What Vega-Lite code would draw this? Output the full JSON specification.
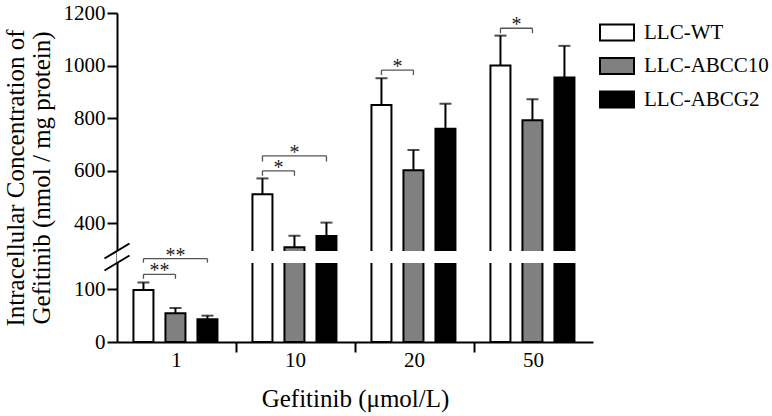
{
  "$schema": "https://vega.github.io/schema/vega-lite/v6.json",
  "width": 476,
  "height": 329,
  "autosize": "none",
  "padding": {"left": 117, "top": 13, "right": 179, "bottom": 74},
  "background": "white",
  "config": {
    "view": {"stroke": null},
    "font": "Liberation Serif",
    "axis": {
      "grid": false,
      "domainColor": "black",
      "domainWidth": 2,
      "tickColor": "black",
      "tickWidth": 2,
      "tickSize": 10,
      "labelColor": "black",
      "labelFont": "Liberation Serif",
      "labelFontSize": 21,
      "titleFont": "Liberation Serif",
      "titleFontSize": 25,
      "titleFontWeight": "normal",
      "titleColor": "black",
      "zindex": 0
    }
  },
  "datasets": {
    "bars": [
      {"Conc": "1", "Line": "LLC-WT", "mean": 98.7, "err": 113},
      {"Conc": "1", "Line": "LLC-ABCC10", "mean": 54.5, "err": 64.6},
      {"Conc": "1", "Line": "LLC-ABCG2", "mean": 43, "err": 50},
      {"Conc": "10", "Line": "LLC-WT", "mean": 511, "err": 571},
      {"Conc": "10", "Line": "LLC-ABCC10", "mean": 309, "err": 353},
      {"Conc": "10", "Line": "LLC-ABCG2", "mean": 352, "err": 403},
      {"Conc": "20", "Line": "LLC-WT", "mean": 850, "err": 952},
      {"Conc": "20", "Line": "LLC-ABCC10", "mean": 602, "err": 679},
      {"Conc": "20", "Line": "LLC-ABCG2", "mean": 760, "err": 855},
      {"Conc": "50", "Line": "LLC-WT", "mean": 1000, "err": 1114},
      {"Conc": "50", "Line": "LLC-ABCC10", "mean": 792, "err": 872},
      {"Conc": "50", "Line": "LLC-ABCG2", "mean": 955, "err": 1075}
    ],
    "brackets": [
      {"id": "b1o", "Conc": "1", "from": "LLC-WT", "to": "LLC-ABCG2", "level": 202, "leg": 154, "label": "**"},
      {"id": "b1i", "Conc": "1", "from": "LLC-WT", "to": "LLC-ABCC10", "level": 128.5, "leg": 120, "label": "**"},
      {"id": "b10o", "Conc": "10", "from": "LLC-WT", "to": "LLC-ABCG2", "level": 657, "leg": 635, "label": "*"},
      {"id": "b10i", "Conc": "10", "from": "LLC-WT", "to": "LLC-ABCC10", "level": 600, "leg": 581, "label": "*"},
      {"id": "b20", "Conc": "20", "from": "LLC-WT", "to": "LLC-ABCC10", "level": 983, "leg": 964, "label": "*"},
      {"id": "b50", "Conc": "50", "from": "LLC-WT", "to": "LLC-ABCC10", "level": 1142, "leg": 1123, "label": "*"}
    ],
    "gap": [{"lo": 150, "hi": 295}],
    "breaks": [{"v": 150}, {"v": 295}]
  },
  "layer": [
    {
      "data": {"name": "bars"},
      "mark": {"type": "bar", "stroke": "black", "strokeWidth": 2},
      "encoding": {
        "x": {
          "field": "Conc", "type": "nominal", "sort": null,
          "scale": {"domain": ["1", "10", "20", "50"], "paddingInner": 0, "paddingOuter": 0},
          "axis": {
            "title": "Gefitinib (μmol/L)",
            "labelAngle": 0,
            "bandPosition": 0,
            "labelPadding": -3,
            "titlePadding": 16,
            "tickColor": {"condition": {"test": "datum.value === '1'", "value": "transparent"}, "value": "black"}
          }
        },
        "xOffset": {
          "field": "Line", "type": "nominal",
          "scale": {"domain": ["LLC-WT", "LLC-ABCC10", "LLC-ABCG2"], "paddingInner": 0.375, "paddingOuter": 0.547, "align": 0.47}
        },
        "y": {
          "field": "mean", "type": "quantitative",
          "scale": {"domain": [0, 150, 295, 1200], "range": [329, 250, 238, 0], "nice": false, "zero": false},
          "axis": {
            "title": ["Intracellular Concentration of", "Gefitinib (nmol / mg protein)"],
            "values": [0, 100, 400, 600, 800, 1000, 1200],
            "format": "d",
            "labelPadding": 2,
            "titlePadding": 9,
            "titleLineHeight": 26
          }
        },
        "fill": {
          "field": "Line", "type": "nominal",
          "scale": {"domain": ["LLC-WT", "LLC-ABCC10", "LLC-ABCG2"], "range": ["white", "#808080", "black"]},
          "legend": {
            "title": null,
            "orient": "none",
            "legendX": 482,
            "legendY": 1.5,
            "padding": 0,
            "symbolType": "M-1,-0.47H1V0.47H-1Z",
            "symbolSize": 1156,
            "symbolStrokeColor": "black",
            "symbolStrokeWidth": 2,
            "labelFont": "Liberation Serif",
            "labelFontSize": 21,
            "labelColor": "black",
            "labelOffset": 9,
            "rowPadding": 3.5
          }
        }
      }
    },
    {
      "data": {"name": "bars"},
      "mark": {"type": "rule", "color": "black", "strokeWidth": 2},
      "encoding": {
        "x": {"field": "Conc", "type": "nominal", "sort": null},
        "xOffset": {"field": "Line", "type": "nominal"},
        "y": {"field": "mean", "type": "quantitative"},
        "y2": {"field": "err"}
      }
    },
    {
      "data": {"name": "bars"},
      "mark": {"type": "tick", "color": "black", "thickness": 2, "size": 12},
      "encoding": {
        "x": {"field": "Conc", "type": "nominal", "sort": null},
        "xOffset": {"field": "Line", "type": "nominal"},
        "y": {"field": "err", "type": "quantitative"}
      }
    },
    {
      "data": {"name": "gap"},
      "mark": {"type": "rect", "fill": "white", "xOffset": -5},
      "encoding": {
        "y": {"field": "lo", "type": "quantitative"},
        "y2": {"field": "hi"}
      }
    },
    {
      "data": {"name": "brackets"},
      "transform": [{"fold": ["from", "to"], "as": ["end", "cell"]}],
      "mark": {"type": "line", "color": "#555555", "strokeWidth": 1.3},
      "encoding": {
        "x": {"field": "Conc", "type": "nominal", "sort": null},
        "xOffset": {"field": "cell", "type": "nominal"},
        "y": {"field": "level", "type": "quantitative"},
        "detail": {"field": "id"}
      }
    },
    {
      "data": {"name": "brackets"},
      "transform": [{"fold": ["from", "to"], "as": ["end", "cell"]}],
      "mark": {"type": "rule", "color": "#555555", "strokeWidth": 1.3},
      "encoding": {
        "x": {"field": "Conc", "type": "nominal", "sort": null},
        "xOffset": {"field": "cell", "type": "nominal"},
        "y": {"field": "level", "type": "quantitative"},
        "y2": {"field": "leg"}
      }
    },
    {
      "data": {"name": "brackets"},
      "transform": [{"filter": "datum.to === 'LLC-ABCG2'"}],
      "mark": {"type": "text", "baseline": "middle", "dy": -3, "fontSize": 20, "color": "#222222", "font": "Liberation Serif"},
      "encoding": {
        "x": {"field": "Conc", "type": "nominal", "sort": null},
        "xOffset": {"datum": "LLC-ABCC10"},
        "y": {"field": "level", "type": "quantitative"},
        "text": {"field": "label"}
      }
    },
    {
      "data": {"name": "brackets"},
      "transform": [{"filter": "datum.to === 'LLC-ABCC10'"}],
      "mark": {"type": "text", "baseline": "middle", "dy": -3, "dx": 16, "fontSize": 20, "color": "#222222", "font": "Liberation Serif"},
      "encoding": {
        "x": {"field": "Conc", "type": "nominal", "sort": null},
        "xOffset": {"field": "from", "type": "nominal"},
        "y": {"field": "level", "type": "quantitative"},
        "text": {"field": "label"}
      }
    },
    {
      "data": {"name": "breaks"},
      "mark": {"type": "point", "shape": "M-1,0.6L1,-0.6", "size": 625, "filled": false, "stroke": "black", "strokeWidth": 2, "opacity": 1},
      "encoding": {
        "x": {"datum": "1", "bandPosition": 0},
        "y": {"field": "v", "type": "quantitative"}
      }
    }
  ]
}
